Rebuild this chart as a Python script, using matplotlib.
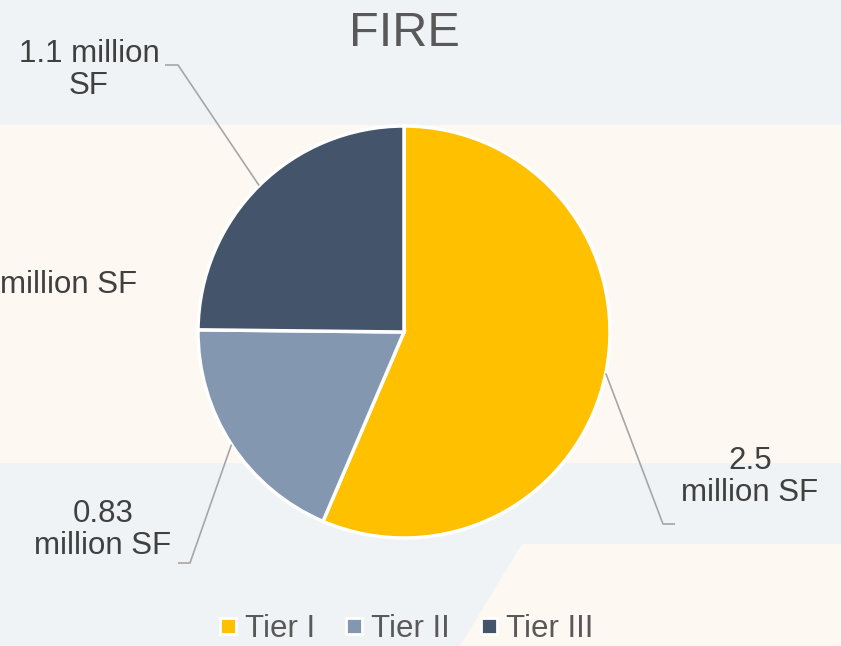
import numpy as np
import matplotlib.pyplot as plt
from matplotlib.lines import Line2D
from matplotlib.patches import Polygon

plt.rcParams["font.family"] = ["Liberation Sans", "DejaVu Sans"]

# data
tiers = ["Tier I", "Tier II", "Tier III"]
sq_ft_millions = [2.5, 0.83, 1.1]
labels = ["2.5\nmillion SF", "0.83\nmillion SF", "1.1 million\nSF"]
colors = ["#ffc000", "#8497b0", "#44546a"]

W, H = 841, 646
fig = plt.figure(figsize=(W / 100, H / 100), dpi=100, facecolor="#f0f3f5")
ax = fig.add_axes([0, 0, 1, 1])

# background bands (pixel coords, y measured from bottom)
ax.axhspan(H - 462, H - 125, color="#fdf9f2", zorder=0)
ax.add_patch(Polygon([(522, H - 544), (W, H - 544), (W, 0), (460, 0)],
                     closed=True, color="#fdf9f2", zorder=0))
# clipped label from a neighbouring chart
ax.text(0, H - 285, "million SF", ha="left", va="center", fontsize=22.5,
        color="#404040")

cx, cy, r = 404, H - 332, 206
wedges, _ = ax.pie(sq_ft_millions, colors=colors, startangle=90,
                   counterclock=False, center=(cx, cy), radius=r,
                   wedgeprops=dict(edgecolor="white", linewidth=2.5),
                   frame=True)
ax.set_xlim(0, W)
ax.set_ylim(0, H)
ax.set_aspect("equal")
ax.axis("off")

# data labels with leader lines
lab_pos = [(750, H - 477), (103, H - 530), (89, H - 70)]
elbow = [((675, H - 524), (663, H - 524)),
         ((178, H - 563), (190, H - 563)),
         ((165, H - 65), (178, H - 65))]
for w, txt, (lx, ly), (p0, p1) in zip(wedges, labels, lab_pos, elbow):
    mid = np.deg2rad((w.theta1 + w.theta2) / 2)
    ex, ey = cx + r * np.cos(mid), cy + r * np.sin(mid)
    ax.plot([p0[0], p1[0], ex], [p0[1], p1[1], ey], color="#a6a6a6",
            lw=1.2, zorder=1, solid_capstyle="butt")
    ax.text(lx, ly, txt, ha="center", va="center", fontsize=22.5,
            color="#404040", linespacing=1.05)

fig.text(404 / W, 1 - 33 / H, "FIRE", ha="center", va="center",
         fontsize=35, color="#595959")

handles = [Line2D([], [], marker="s", linestyle="", markersize=11,
                  markerfacecolor=c, markeredgecolor="white",
                  markeredgewidth=2) for c in colors]
fig.legend(handles, tiers, loc="center", bbox_to_anchor=(406 / W, 1 - 629 / H),
           ncol=3, frameon=False, fontsize=22.5, labelcolor="#595959",
           handlelength=0.6, handletextpad=0.25, columnspacing=0.95,
           borderaxespad=0)

fig.savefig("out.png", dpi=100, facecolor=fig.get_facecolor())
